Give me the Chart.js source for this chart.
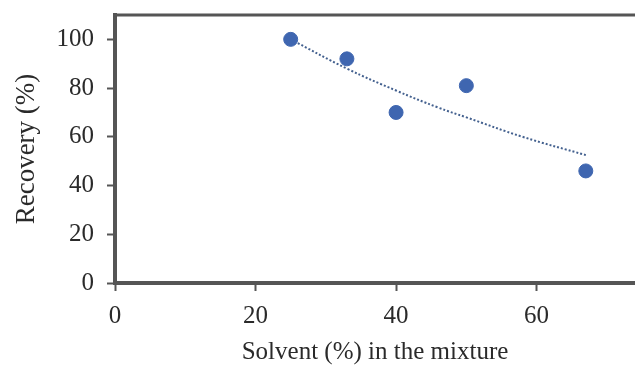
<!DOCTYPE html>
<html>
<head>
<meta charset="utf-8">
<script src="https://cdn.jsdelivr.net/npm/chart.js@4.4.1/dist/chart.umd.min.js"></script>
<style>
  html, body { margin: 0; padding: 0; background: #fff; }
  #wrap { width: 635px; height: 365px; }
</style>
</head>
<body>
<div id="wrap"><canvas id="recoveryChart" width="635" height="365"></canvas></div>
<script>
// values
const solvent = [25, 33, 40, 50, 67];
const recovery = [100, 92, 70, 81, 46];
// dotted trend line, sampled by eye
const trendX = [25, 33, 40, 46, 50, 58, 67];
const trendY = [100, 88, 79, 72, 68, 60, 52.5];
const xTicks = [0, 20, 40, 60];
const yTicks = [0, 20, 40, 60, 80, 100];

const axisColor = '#555555';
const textColor = '#2a2a2a';
const serif = "'Liberation Serif', 'DejaVu Serif', serif";

// top edge of the plot box
const topBorder = {
  id: 'topBorder',
  afterDraw(chart) {
    const { ctx, chartArea } = chart;
    ctx.save();
    ctx.strokeStyle = axisColor;
    ctx.lineWidth = 3;
    ctx.beginPath();
    ctx.moveTo(chartArea.left - 2, chartArea.top);
    ctx.lineTo(chartArea.right, chartArea.top);
    ctx.stroke();
    ctx.restore();
  }
};

document.addEventListener('DOMContentLoaded', () => {
  const ctx = document.getElementById('recoveryChart');

  new Chart(ctx.getContext('2d'), {
    type: 'scatter',
    data: {
      datasets: [
        {
          label: 'Recovery',
          data: solvent.map((x, i) => ({ x: x, y: recovery[i] })),
          backgroundColor: '#3f66b0',
          borderColor: '#3f66b0',
          pointRadius: 7,
          pointHoverRadius: 7
        },
        {
          label: 'Trend',
          data: trendX.map((x, i) => ({ x: x, y: trendY[i] })),
          showLine: true,
          borderColor: '#44618f',
          borderWidth: 2,
          borderDash: [2, 2],
          pointRadius: 0,
          tension: 0.4,
          fill: false
        }
      ]
    },
    options: {
      responsive: false,
      animation: false,
      layout: { autoPadding: false, padding: { top: 15, right: 0, left: 0, bottom: 0 } },
      plugins: {
        legend: { display: false },
        tooltip: { enabled: false }
      },
      scales: {
        x: {
          type: 'linear',
          min: 0,
          max: 74,
          afterBuildTicks: (s) => { s.ticks = xTicks.map(v => ({ value: v })); },
          afterFit: (s) => { s.height = 82; s.paddingLeft = 0; s.paddingRight = 0; },
          border: { display: true, color: axisColor, width: 4 },
          grid: { drawOnChartArea: false, drawTicks: true, tickLength: 8, tickColor: axisColor, tickWidth: 2 },
          ticks: { color: textColor, font: { family: serif, size: 25 }, padding: 10, maxRotation: 0 },
          title: {
            display: true,
            text: 'Solvent (%) in the mixture',
            color: textColor,
            font: { family: serif, size: 25, lineHeight: 1.0 },
            padding: { top: 0, bottom: 0 }
          }
        },
        y: {
          min: 0,
          max: 110,
          afterBuildTicks: (s) => { s.ticks = yTicks.map(v => ({ value: v })); },
          afterFit: (s) => { s.width = 115; s.paddingTop = 0; s.paddingBottom = 0; },
          border: { display: true, color: axisColor, width: 4 },
          grid: { drawOnChartArea: false, drawTicks: true, tickLength: 8, tickColor: axisColor, tickWidth: 2 },
          ticks: { color: textColor, font: { family: serif, size: 25 }, padding: 13 },
          title: {
            display: true,
            text: 'Recovery (%)',
            color: textColor,
            font: { family: serif, size: 27, lineHeight: 1.0 },
            padding: { top: 13, bottom: 0 }
          }
        }
      }
    },
    plugins: [topBorder]
  });
});
</script>
</body>
</html>
